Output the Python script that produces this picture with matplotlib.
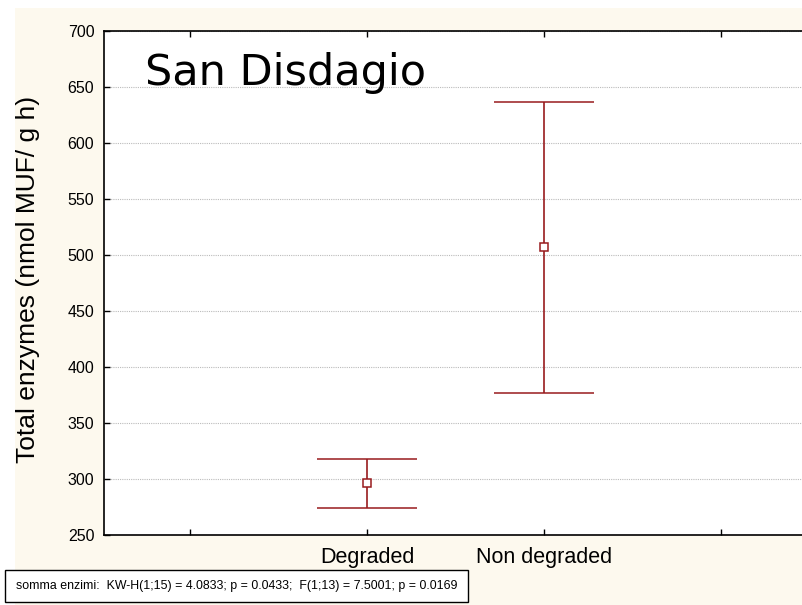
import matplotlib
matplotlib.use("Agg")
import matplotlib.pyplot as plt
from matplotlib.patches import Rectangle

categories = ["Degraded", "Non degraded"]
means = [296, 507]
upper = [318, 637]
lower = [274, 377]
yticks = [250, 300, 350, 400, 450, 500, 550, 600, 650, 700]

W, H = 802, 605
fig = plt.figure(figsize=(W / 100, H / 100), dpi=100)
fig.patch.set_facecolor("white")
bg = Rectangle((15 / W, 0), 1 - 15 / W, 1 - 8 / H, transform=fig.transFigure,
               facecolor="#fdf9ee", edgecolor="none", zorder=-10)
fig.patches.append(bg)

ax = fig.add_axes([104 / W, 70 / H, 1 - 104 / W, (535 - 31) / H])
ax.set_zorder(1)
ax.set_facecolor("white")

xpos = [1, 2]
red = "#981b1e"
yerr = [[m - l for m, l in zip(means, lower)], [u - m for u, m in zip(upper, means)]]
ax.errorbar(xpos, means, yerr=yerr, fmt="s", color=red, ecolor=red, elinewidth=1.2,
            capsize=36, capthick=1.4, markersize=6, markerfacecolor="white",
            markeredgecolor=red, markeredgewidth=1.1, zorder=3)

ax.set_xlim(-0.486, 3.458)
ax.set_ylim(250, 700)
ax.set_xticks([0, 1, 2, 3])
ax.set_xticklabels(["", categories[0], categories[1], ""], fontsize=15.5,
                   family="Liberation Sans")
ax.set_yticks(yticks)
ax.set_yticklabels([str(v) for v in yticks], fontsize=11.5, family="Liberation Sans")
ax.tick_params(axis="both", direction="in", length=4, width=1, top=True, right=False)
ax.tick_params(axis="x", pad=9)
ax.tick_params(axis="y", pad=7)
ax.grid(axis="y", linestyle=(0, (1, 1)), color="#bbbbbb", linewidth=0.8)
ax.set_axisbelow(True)
for s in ["left", "bottom", "top"]:
    ax.spines[s].set_linewidth(1.2)
ax.spines["right"].set_visible(False)

ax.set_ylabel("Total enzymes (nmol MUF/ g h)", fontsize=19, family="Liberation Sans",
              labelpad=8)
ax.yaxis.set_label_coords(-(104 - 40) / (W - 104), 0.5 + (283 - 279) / 504)

ax.text(145, 605 - 85, "San Disdagio", transform=None, fontsize=31, family="DejaVu Sans",
        va="baseline")

box = Rectangle((5 / W, (605 - 602) / H), 463 / W, 32 / H, transform=fig.transFigure,
                facecolor="white", edgecolor="black", linewidth=1, zorder=5)
fig.patches.append(box)
box_txt = "somma enzimi:  KW-H(1;15) = 4.0833; p = 0.0433;  F(1;13) = 7.5001; p = 0.0169"
fig.text(236.5 / W, (605 - 586) / H, box_txt, fontsize=8.9, family="Liberation Sans",
         va="center", ha="center", zorder=6)

fig.savefig("out.png", dpi=100)
